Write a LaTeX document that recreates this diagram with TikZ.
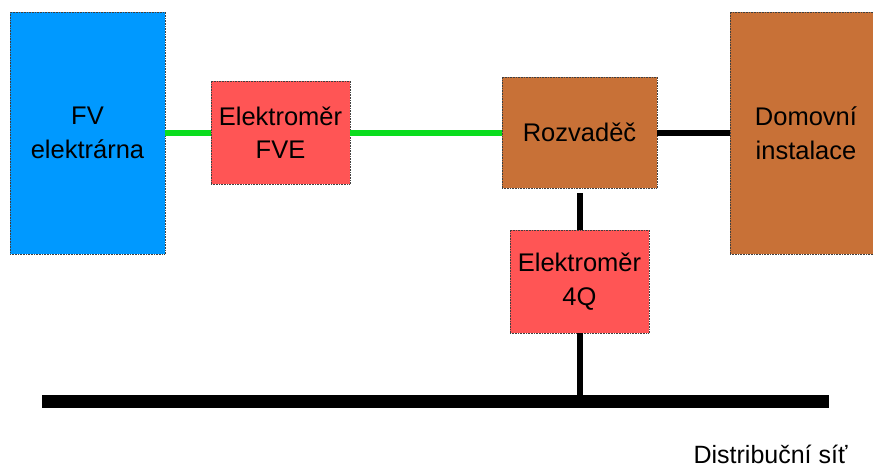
\documentclass[tikz,border=0pt]{standalone}
\usepackage{fontspec}
\setmainfont{Liberation Sans}
\definecolor{pvblue}{HTML}{0099FF}
\definecolor{meterred}{HTML}{FF5555}
\definecolor{boardbrown}{HTML}{C87137}
\definecolor{pvgreen}{HTML}{0ADD1E}
\tikzset{
  block/.style={rectangle, draw=black!75, densely dotted, line width=0.6pt,
    align=center, inner sep=0pt, font=\fontsize{25.5}{33.5}\selectfont},
  pvline/.style={draw=pvgreen, line width=6pt},
  acline/.style={draw=black, line width=6pt},
  busline/.style={draw=black, line width=13pt},
}
\begin{document}
\begin{tikzpicture}[x=1pt, y=-1pt]
\useasboundingbox (0,0) rectangle (873,466);
\clip (0,0) rectangle (873,466);
% bus bar of the distribution grid
\coordinate (busL) at (42,401);
\coordinate (busR) at (829,401);
% blocks
\node[block, fill=pvblue, minimum width=155pt, minimum height=242pt] (fv) at (87.5,133) {FV\\elektrárna};
\node[block, fill=meterred, minimum width=139pt, minimum height=103pt] (fve) at (280.5,132.5) {Elektroměr\\FVE};
\node[block, fill=boardbrown, minimum width=155pt, minimum height=111pt] (roz) at (579.5,132.5) {Rozvaděč};
\node[block, fill=boardbrown, minimum width=152pt, minimum height=242pt] (dom) at (806,133) {Domovní\\instalace};
\node[block, fill=meterred, minimum width=139pt, minimum height=103pt] (q4) at (579.5,281.5) {Elektroměr\\4Q};
% connections
\draw[pvline] (fv.east |- fve.west) -- (fve.west);
\draw[pvline] (fve.east) -- (roz.west |- fve.east);
\draw[acline] (roz.east) -- (dom.west |- roz.east);
\draw[acline] ([yshift=-5pt]roz.south) -- (q4.north);
\draw[acline] (q4.south) -- (q4.south |- busL);
\draw[busline] (busL) -- (busR);
\node[inner sep=0pt, font=\fontsize{25}{28}\selectfont] (grid) at (770.5,454) {Distribuční síť};
\end{tikzpicture}
\end{document}
